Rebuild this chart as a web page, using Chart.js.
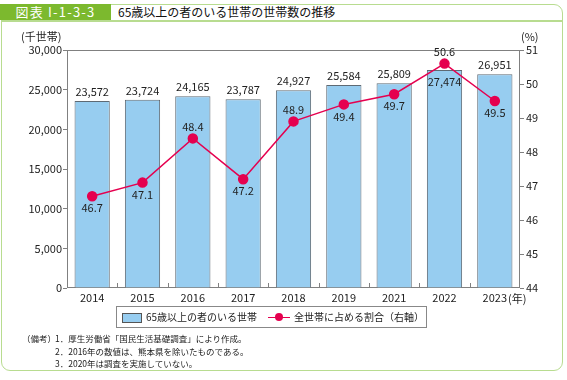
<!DOCTYPE html>
<html>
<head>
<meta charset="utf-8">
<script src="https://cdn.jsdelivr.net/npm/chart.js@4"></script>
<style>
  body { margin: 0; background: #fff; font-family: "Noto Sans CJK JP", "Noto Sans", sans-serif; }
  #wrap { position: relative; width: 567px; height: 380px; overflow: hidden; }
  .abs { position: absolute; white-space: nowrap; }
  #frame { left: 1px; top: 4px; width: 560px; height: 365px; border: 1.5px solid #b8dc90; border-radius: 0 9px 9px 9px; }
  #hline { left: 1px; top: 20px; width: 562px; height: 1.5px; background: #b8dc90; }
  #tab { left: 0; top: 4px; width: 111px; height: 16px; background: #7cb92e; color: #fff; font-size: 13px; line-height: 16px; text-align: center; letter-spacing: 1.2px; }
  #title { left: 118px; top: 4px; font-size: 12px; line-height: 16px; color: #111; }
  #legend { left: 116px; top: 306px; width: 309px; height: 20px; border: 1px solid #888; font-size: 10px; line-height: 20px; color: #222; }
  .note { font-size: 8.5px; color: #222; line-height: 10px; }
</style>
</head>
<body>
<div id="wrap">
  <div class="abs" id="frame"></div>
  <div class="abs" id="hline"></div>
  <div class="abs" id="tab">図表 I-1-3-3</div>
  <div class="abs" id="title">65歳以上の者のいる世帯の世帯数の推移</div>
  <canvas id="c" class="abs" width="567" height="310" style="left:0;top:0;"></canvas>
  <div class="abs" style="left:21px;top:28px;font-size:11px;color:#222;">(千世帯)</div>
  <div class="abs" style="left:521px;top:28px;font-size:11px;color:#222;">(%)</div>
  <div class="abs" style="left:508px;top:290px;font-size:11px;color:#222;">(年)</div>
  <div class="abs" id="legend">
    <span class="abs" style="left:5px;top:6px;width:18px;height:8px;background:#97cdf0;border:1px solid #555;"></span>
    <span class="abs" style="left:29px;top:0;">65歳以上の者のいる世帯</span>
    <span class="abs" style="left:151px;top:9.5px;width:22px;height:1.5px;background:#e5004f;"></span>
    <span class="abs" style="left:158px;top:6px;width:8px;height:8px;border-radius:50%;background:#e5004f;"></span>
    <span class="abs" style="left:177px;top:0;">全世帯に占める割合（右軸）</span>
  </div>
  <div class="abs note" style="left:22px;top:333px;">（備考）</div>
  <div class="abs note" style="left:55px;top:333px;">1．厚生労働省「国民生活基礎調査」により作成。</div>
  <div class="abs note" style="left:55px;top:346px;">2．2016年の数値は、熊本県を除いたものである。</div>
  <div class="abs note" style="left:55px;top:358px;">3．2020年は調査を実施していない。</div>
</div>
<script>
const years = ['2014', '2015', '2016', '2017', '2018', '2019', '2021', '2022', '2023'];
const households = [23572, 23724, 24165, 23787, 24927, 25584, 25809, 27474, 26951];
const shares = [46.7, 47.1, 48.4, 47.2, 48.9, 49.4, 49.7, 50.6, 49.5];
const leftTicks = [0, 5000, 10000, 15000, 20000, 25000, 30000];
const rightTicks = [44, 45, 46, 47, 48, 49, 50, 51];

// where each value label sits relative to its mark
const barLabelPos = ['up', 'up', 'up', 'up', 'up', 'up', 'up', 'in', 'up'];
const lineLabelPos = ['down', 'down', 'up', 'down', 'up', 'down', 'down', 'up', 'down'];

const FONT = '"Noto Sans CJK JP", "Noto Sans", sans-serif';
const fmt = n => n.toLocaleString('en-US');

// frame around plot, inward x ticks and value labels
const decor = {
    id: 'decor',
    beforeDatasetsDraw(chart) {
        const ctx = chart.ctx, a = chart.chartArea, x = chart.scales.x;
        ctx.save();
        ctx.strokeStyle = '#808080';
        ctx.lineWidth = 1;
        ctx.strokeRect(a.left + 0.5, a.top + 0.5, a.right - a.left - 1, a.bottom - a.top - 1);
        const step = (a.right - a.left) / years.length;
        ctx.beginPath();
        for (let i = 1; i < years.length; i++) {
            const px = Math.round(x.getPixelForValue(i) - step / 2) + 0.5;
            ctx.moveTo(px, a.bottom);
            ctx.lineTo(px, a.bottom - 5);
        }
        ctx.stroke();
        ctx.restore();
    },
    afterDatasetsDraw(chart) {
        const ctx = chart.ctx;
        ctx.save();
        ctx.font = '11px ' + FONT;
        ctx.fillStyle = '#222';
        ctx.textAlign = 'center';
        ctx.textBaseline = 'middle';
        chart.getDatasetMeta(1).data.forEach((bar, i) => {
            const dy = barLabelPos[i] === 'in' ? 12 : -9;
            ctx.fillText(fmt(households[i]), bar.x, bar.y + dy);
        });
        chart.getDatasetMeta(0).data.forEach((pt, i) => {
            const dy = lineLabelPos[i] === 'up' ? -12 : 12;
            ctx.fillText(shares[i].toFixed(1), pt.x, pt.y + dy);
        });
        ctx.restore();
    }
};

new Chart(document.getElementById('c'), {
    data: {
        labels: years,
        datasets: [{
            type: 'line',
            label: '全世帯に占める割合（右軸）',
            data: shares,
            yAxisID: 'y1',
            borderColor: '#e5004f',
            backgroundColor: '#e5004f',
            borderWidth: 1.5,
            pointRadius: 4.5,
            tension: 0,
            order: 0
        }, {
            type: 'bar',
            label: '65歳以上の者のいる世帯',
            data: households,
            yAxisID: 'y',
            backgroundColor: '#97cdf0',
            borderColor: '#5e6a74',
            borderWidth: 1,
            barPercentage: 0.7,
            categoryPercentage: 1,
            order: 1
        }]
    },
    options: {
        responsive: false,
        animation: false,
        devicePixelRatio: 1,
        layout: { padding: { top: 50, left: 0, right: 0, bottom: 0 } },
        plugins: { legend: { display: false }, tooltip: { enabled: false } },
        scales: {
            x: {
                grid: { display: false, drawTicks: false },
                border: { display: false },
                ticks: { color: '#222', font: { family: FONT, size: 11 }, padding: 3, maxRotation: 0 },
                afterFit: s => { s.height = 22; }
            },
            y: {
                position: 'left',
                min: 0, max: 30000,
                afterBuildTicks: s => { s.ticks = leftTicks.map(v => ({ value: v })); },
                grid: { drawOnChartArea: false, tickLength: 4, color: '#808080' },
                border: { display: false },
                ticks: { color: '#222', font: { family: FONT, size: 11 }, padding: 1, callback: v => fmt(v) },
                afterFit: s => { s.width = 67; }
            },
            y1: {
                position: 'right',
                min: 44, max: 51,
                afterBuildTicks: s => { s.ticks = rightTicks.map(v => ({ value: v })); },
                grid: { drawOnChartArea: false, tickLength: 4, color: '#808080' },
                border: { display: false },
                ticks: { color: '#222', font: { family: FONT, size: 11 }, padding: 2 },
                afterFit: s => { s.width = 47; }
            }
        }
    },
    plugins: [decor]
});
</script>
</body>
</html>
